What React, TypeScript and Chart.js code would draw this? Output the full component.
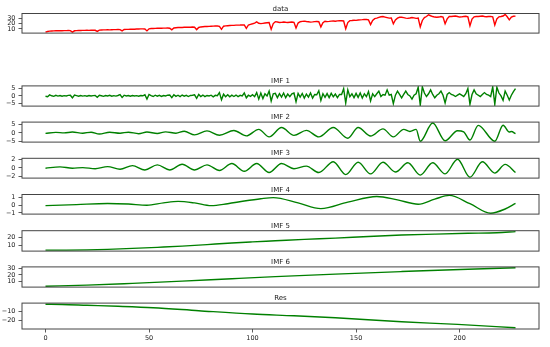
import React, { useEffect, useRef } from 'react';
import { Chart, registerables } from 'chart.js';

Chart.register(...registerables);
Chart.defaults.font.family = '"DejaVu Sans", sans-serif';

// ---------- DATA ----------
const panelTitles = ['data', 'IMF 1', 'IMF 2', 'IMF 3', 'IMF 4', 'IMF 5', 'IMF 6', 'Res'];

const dataSeries = [
  3.5, 4.8, 5.6, 5.8, 6.0, 6.2, 6.3, 6.4, 6.3, 6.5, 6.6, 6.7,
  6.6, 3.6, 6.2, 6.6, 6.8, 6.9, 7.0, 7.0, 7.2, 7.1, 7.3, 7.4,
  7.2, 5.0, 7.6, 7.8, 7.9, 8.0, 8.1, 8.0, 8.3, 8.4, 8.5, 8.6,
  8.4, 6.0, 8.7, 8.9, 9.0, 9.2, 9.1, 9.3, 9.5, 9.6, 9.8, 9.9,
  9.6, 6.0, 10.0, 10.5, 10.7, 10.8, 11.0, 11.1, 11.0, 11.3, 11.4, 11.6,
  11.2, 8.0, 11.5, 12.0, 12.4, 12.6, 12.5, 12.9, 13.0, 13.2, 13.1, 13.4,
  13.0, 8.5, 12.6, 13.6, 14.0, 14.3, 14.5, 14.7, 15.0, 15.1, 15.3, 15.5,
  14.8, 9.0, 15.0, 15.6, 16.0, 16.3, 16.5, 16.6, 17.0, 17.1, 17.2, 17.4,
  17.3, 10.9, 17.3, 18.5, 19.7, 21.0, 23.2, 20.7, 20.0, 20.5, 21.0, 21.5,
  22.0, 9.0, 20.0, 23.7, 23.0, 22.2, 22.4, 23.0, 22.5, 22.2, 22.6, 23.0,
  22.5, 11.6, 21.0, 23.5, 24.2, 24.7, 24.0, 23.5, 22.8, 23.2, 23.7, 24.0,
  23.5, 13.6, 21.5, 24.5, 23.8, 24.2, 24.7, 25.0, 24.6, 25.2, 25.6, 25.4,
  25.0, 10.1, 22.0, 25.6, 26.0, 26.5, 26.2, 26.8, 27.1, 27.5, 28.1, 27.8,
  27.0, 18.0, 26.0, 29.5, 30.5, 32.0, 33.0, 33.5, 32.5, 31.5, 30.5, 30.7,
  19.7, 27.0, 30.5, 32.0, 32.0, 31.5, 30.5, 30.0, 30.7, 31.5, 31.0, 30.0,
  30.5, 13.8, 26.0, 31.5, 33.5, 36.9, 35.0, 33.5, 32.5, 32.0, 32.5, 33.5,
  32.5, 19.7, 29.0, 33.5, 33.5, 34.0, 34.4, 33.5, 32.5, 32.8, 33.5, 34.0,
  33.0, 15.8, 28.5, 33.0, 33.5, 33.5, 34.0, 34.4, 33.5, 33.0, 33.5, 33.8,
  33.0, 17.3, 29.0, 33.0, 33.5, 34.5, 37.6, 33.0, 27.1, 32.5, 34.0, 34.2,
];

const imf1Series = [
  -0.2, -0.6, 0.7, 0.1, -0.3, 0.4, -0.1, 0.3, -0.2, 0.2, 0.0, 0.4,
  0.5, -1.3, 0.6, 0.2, -0.2, 0.3, -0.1, 0.2, -0.2, 0.3, 0.0, 0.2,
  0.3, -0.9, 0.5, 0.1, -0.3, 0.3, 0.0, 0.4, -0.2, 0.2, -0.1, 0.3,
  0.9, -1.0, 0.5, 0.0, 0.3, -0.2, 0.3, 0.0, 0.2, -0.2, 0.3, 0.1,
  0.8, -2.2, 1.0, 0.2, -0.4, 0.5, -0.2, 0.4, -0.3, 0.3, 0.0, 0.5,
  0.6, -1.2, 0.8, -0.3, 0.5, -0.5, 0.6, -0.2, 0.4, -0.4, 0.3, 0.5,
  0.8, -1.6, 1.0, -0.4, 0.6, -0.5, 0.3, 0.0, 0.5, -0.6, 0.4, 0.2,
  2.3, -2.7, 1.2, -0.5, 0.8, -0.6, 0.5, -0.4, 0.6, -0.5, 0.4, 0.0,
  2.0, -1.3, 0.5, -0.3, 0.8, -0.5, 2.3, -2.2, 2.0, -1.8, 1.5, 0.0,
  3.3, -3.5, 1.5, 1.8, -1.2, 1.6, -0.8, 2.0, -1.2, 1.3, -0.5, 1.5,
  2.0, -4.0, 1.8, -0.8, 1.7, -1.5, 1.3, -0.8, 2.0, -1.5, 1.0, 0.8,
  3.6, -3.1, 1.5, -1.0, 1.6, -1.2, 1.8, -0.6, 1.3, -1.2, 1.0, 1.0,
  5.0, -4.9, 4.2, -0.5, 1.5, -1.2, 1.8, -1.0, 2.0, -1.4, 1.5, -0.5,
  3.0, -3.4, 1.5, -0.5, 1.5, 3.3, -0.4, 1.0, 0.5, 4.2, 0.5, 1.0,
  -5.3, 0.5, 3.3, 1.0, -1.3, 1.0, 3.3, 1.0, 0.0, -2.2, 0.5, 1.5,
  6.0, -6.4, 6.3, 2.0, -0.4, 1.5, 4.2, 1.0, -1.3, 0.5, 1.5, 3.3,
  0.5, -4.9, 1.0, 2.3, 1.0, 0.5, -0.4, 0.5, 1.4, 0.5, -0.4, 1.5,
  5.1, -5.8, 1.0, 4.2, 1.5, 0.5, -0.4, 1.0, 2.3, 1.0, 0.5, -0.4,
  6.3, -5.8, 6.0, 2.0, 0.0, -3.1, 3.3, 0.5, -2.8, 0.5, 3.0, 5.1,
];

// smoother components: values read at their turning points
const imf2X = [0, 5, 9, 13, 18, 22, 26, 31, 36, 40, 45, 49, 54, 58, 63, 67, 72, 78, 84, 91,
  97, 103, 108, 114, 120, 126, 132, 139, 146, 151, 157, 163, 168, 173, 176, 179, 181, 187, 193, 199,
  202, 205, 209, 217, 221, 224, 225, 227];
const imf2Y = [-0.3, 0.3, 0.0, 0.5, -0.2, 0.4, -0.7, 0.4, -0.2, 0.4, -0.5, 0.5, -0.4, 0.6, -0.2, 1.0, -1.2, 1.2, -1.4, 1.4,
  -1.8, 2.1, -2.4, 3.2, -1.5, 1.5, -2.4, 3.2, -3.2, 3.2, -1.9, 2.4, -2.4, 2.1, 0.8, 2.1, -5.0, 5.9, -4.7, 1.3,
  0.6, -4.3, 4.5, -5.0, 4.6, 0.5, 0.8, -0.5];

const imf3X = [0, 7, 13, 18, 24, 30, 36, 42, 48, 54, 60, 66, 72, 78, 84, 90, 96, 102, 108, 114,
  120, 126, 132, 139, 145, 151, 157, 163, 169, 175, 181, 187, 193, 199, 205, 211, 217, 222, 227];
const imf3Y = [-0.06, 0.25, -0.06, 0.08, -0.18, 0.31, -0.3, 0.56, -0.49, 0.74, -0.49, 0.87, -0.49, 0.74, -0.61, 1.06, -0.8, 1.06, -1.1, 1.06,
  -0.18, 0.44, -1.1, 1.49, -1.6, 1.37, -1.41, 1.37, -0.98, 1.24, -1.72, 1.24, -1.41, 2.1, -2.22, 1.49, -1.23, 0.87, -1.1];

const imf4X = [0, 15, 30, 40, 49, 57, 64, 72, 80, 88, 96, 104, 110, 122, 133, 146, 160, 170, 180, 188, 195, 205, 215, 222, 227];
const imf4Y = [-0.06, 0.08, 0.22, 0.15, 0.0, 0.3, 0.5, 0.3, -0.06, 0.2, 0.55, 0.85, 1.0, 0.3, -0.45, 0.4, 1.15, 0.7, 0.13, 0.8, 1.29, 0.2, -1.05, -0.5, 0.23];

const imf5X = [0, 10, 20, 30, 42, 54, 66, 78, 90, 100, 111, 125, 140, 156, 172, 188, 204, 218, 227];
const imf5Y = [4.6, 4.7, 5.0, 5.6, 6.7, 8.0, 9.4, 11.3, 13.2, 14.5, 15.8, 17.5, 19.0, 21.0, 22.7, 23.8, 24.8, 25.5, 26.8];

const imf6X = [0, 20, 42, 66, 90, 111, 140, 172, 204, 227];
const imf6Y = [2.6, 4.2, 7.0, 10.4, 14.2, 17.4, 21.3, 25.2, 28.9, 31.0];

const resX = [0, 8, 20, 35, 52, 74, 100, 120, 140, 172, 199, 227];
const resY = [-1.8, -2.0, -2.9, -4.0, -5.6, -8.9, -12.6, -14.5, -16.7, -21.1, -24.0, -27.8];

const xTicks = [0, 50, 100, 150, 200];
const dataTicks = [10, 20, 30];
const imf1Ticks = [-5, 0, 5];
const imf2Ticks = [-5, 0, 5];
const imf3Ticks = [-2, 0, 2];
const imf4Ticks = [-1, 0, 1];
const imf5Ticks = [10, 20];
const imf6Ticks = [10, 20, 30];
const resTicks = [-20, -10];

// ---------- LAYOUT / STYLE ----------
const W = 550;
const PLOT_LEFT = 22;
const PLOT_RIGHT = 539;
const TOP0 = 13.5;
const STEP = 36.2;
const PANEL_H = 25.5;
const RED = '#ff0000';
const GREEN = '#008000';

const sampleIdx = dataSeries.map((_, i) => i);
const xLo = 0;
const xHi = dataSeries.length - 1;
const xMargin = 0.05 * (xHi - xLo);

type PanelCfg = {
  title: string; xs: number[]; ys: number[]; color: string; ticks: number[]; smooth: boolean; slot: number;
};

const panels: PanelCfg[] = [
  { title: panelTitles[0], xs: sampleIdx, ys: dataSeries, color: RED, ticks: dataTicks, smooth: false, slot: 0 },
  { title: panelTitles[1], xs: sampleIdx, ys: imf1Series, color: GREEN, ticks: imf1Ticks, smooth: false, slot: 2 },
  { title: panelTitles[2], xs: imf2X, ys: imf2Y, color: GREEN, ticks: imf2Ticks, smooth: true, slot: 3 },
  { title: panelTitles[3], xs: imf3X, ys: imf3Y, color: GREEN, ticks: imf3Ticks, smooth: true, slot: 4 },
  { title: panelTitles[4], xs: imf4X, ys: imf4Y, color: GREEN, ticks: imf4Ticks, smooth: true, slot: 5 },
  { title: panelTitles[5], xs: imf5X, ys: imf5Y, color: GREEN, ticks: imf5Ticks, smooth: true, slot: 6 },
  { title: panelTitles[6], xs: imf6X, ys: imf6Y, color: GREEN, ticks: imf6Ticks, smooth: true, slot: 7 },
  { title: panelTitles[7], xs: resX, ys: resY, color: GREEN, ticks: resTicks, smooth: true, slot: 8 },
];

const fmt = (v: number) => (v < 0 ? '\u2212' + Math.abs(v) : String(v));

const framePlugin = {
  id: 'frameTitle',
  afterDraw(chart: any) {
    const { ctx, chartArea } = chart;
    const { left, right, top, bottom } = chartArea;
    ctx.save();
    ctx.strokeStyle = '#444';
    ctx.lineWidth = 1;
    ctx.strokeRect(left, top, right - left, bottom - top);
    ctx.fillStyle = '#222';
    ctx.font = '7px "DejaVu Sans", sans-serif';
    ctx.textAlign = 'center';
    ctx.textBaseline = 'alphabetic';
    ctx.fillText(chart.options.plugins.panelTitle.text, (left + right) / 2, top - 3);
    ctx.restore();
  },
};

function Panel({ cfg, last }: { cfg: PanelCfg; last: boolean }) {
  const ref = useRef<HTMLCanvasElement>(null);
  const top = TOP0 + STEP * cfg.slot;
  const canvasTop = Math.floor(top) - 12;
  const padTop = top - canvasTop;
  const xAxisH = 16;
  const height = Math.ceil(padTop + PANEL_H + (last ? xAxisH : 1));

  useEffect(() => {
    const pts = cfg.ys.map((y, i) => ({ x: cfg.xs[i], y }));
    const lo = Math.min(...cfg.ys);
    const hi = Math.max(...cfg.ys);
    const m = 0.05 * (hi - lo);
    const chart = new Chart(ref.current as HTMLCanvasElement, {
      type: 'line',
      data: {
        datasets: [{
          data: pts,
          borderColor: cfg.color,
          borderWidth: 1.4,
          pointRadius: 0,
          fill: false,
          tension: 0,
          cubicInterpolationMode: cfg.smooth ? 'monotone' : 'default',
        }],
      },
      options: {
        animation: false,
        responsive: false,
        devicePixelRatio: 1,
        events: [],
        layout: {
          padding: {
            left: 0,
            right: W - PLOT_RIGHT,
            top: padTop,
            bottom: last ? 0 : height - padTop - PANEL_H,
          },
        },
        plugins: {
          legend: { display: false },
          tooltip: { enabled: false },
          panelTitle: { text: cfg.title },
        } as any,
        scales: {
          x: {
            type: 'linear',
            min: xLo - xMargin,
            max: xHi + xMargin,
            display: last,
            afterBuildTicks: (s: any) => { s.ticks = xTicks.map((v) => ({ value: v })); },
            afterFit: (s: any) => { s.height = last ? xAxisH : 0; },
            grid: { drawOnChartArea: false, drawTicks: true, tickLength: 3.5, color: '#333', lineWidth: 0.8 },
            border: { display: false },
            ticks: { font: { size: 6.5 }, color: '#222', padding: 2, maxRotation: 0, autoSkip: false, callback: (v: any) => fmt(Number(v)) },
          },
          y: {
            type: 'linear',
            min: lo - m,
            max: hi + m,
            afterBuildTicks: (s: any) => { s.ticks = cfg.ticks.map((v) => ({ value: v })); },
            afterFit: (s: any) => { s.width = PLOT_LEFT; },
            grid: { drawOnChartArea: false, drawTicks: true, tickLength: 3.5, color: '#333', lineWidth: 0.8 },
            border: { display: false },
            ticks: { font: { size: 6.5 }, color: '#222', padding: 3, autoSkip: false, callback: (v: any) => fmt(Number(v)) },
          },
        },
      },
      plugins: [framePlugin],
    } as any);
    return () => chart.destroy();
  }, []);

  return (
    <canvas
      ref={ref}
      width={W}
      height={height}
      style={{ position: 'absolute', left: 0, top: canvasTop, width: W, height }}
    />
  );
}

export default function App() {
  return (
    <div style={{ position: 'fixed', left: 0, top: 0, width: 550, height: 347, background: '#fff', overflow: 'hidden' }}>
      {panels.map((p, i) => (
        <Panel key={p.title} cfg={p} last={i === panels.length - 1} />
      ))}
    </div>
  );
}
